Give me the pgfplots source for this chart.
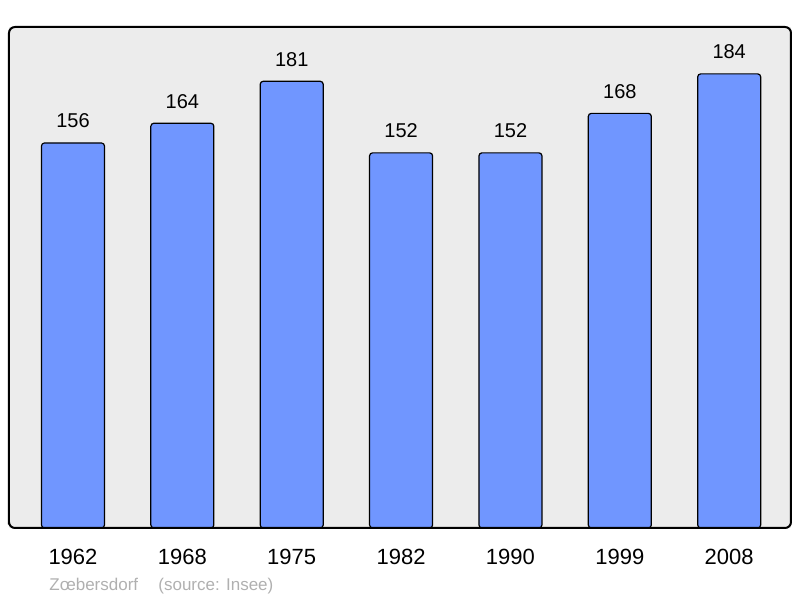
\documentclass[border=0pt]{standalone}
\usepackage{pgfplots}
\pgfplotsset{compat=1.18}
\usepackage{fontspec}
\setmainfont{Liberation Sans}

\definecolor{barblue}{RGB}{112,150,255}
\definecolor{panel}{RGB}{236,236,236}
\definecolor{srcgray}{RGB}{176,176,176}

\begin{document}
\begin{tikzpicture}
\path[use as bounding box] (-4.5pt,-35pt) rectangle (395.5pt,264pt);
\begin{axis}[
    at={(0,0)}, anchor=south west,
    scale only axis,
    width=391pt, height=250.5pt,
    xmin=-0.585, xmax=6.565,
    ymin=0, ymax=203,
    xtick=data,
    xticklabels={1962,1968,1975,1982,1990,1999,2008},
    ytick=\empty,
    major tick length=0pt,
    xticklabel style={anchor=base, yshift=-18.5pt, font=\fontsize{11}{13}\selectfont},
    axis background/.style={fill=panel},
    axis line style={line width=1pt, rounded corners=3pt},
    axis on top,
    /pgf/number format/assume math mode=true,
    nodes near coords,
    every node near coord/.append style={anchor=base, yshift=7.5pt, font=\fontsize{10}{12}\selectfont},
]
\addplot[ybar, bar width=31.5pt, fill=barblue, draw=black, line width=0.6pt, rounded corners=1.5pt]
coordinates {
    (0,156) (1,164) (2,181) (3,152) (4,152) (5,168) (6,184)
};
\end{axis}
\node[anchor=base west, text=srcgray, font=\fontsize{8.5}{10}\selectfont, inner sep=0pt] at (20pt,-31.5pt) {Zœbersdorf};
\node[anchor=base west, text=srcgray, font=\fontsize{8.5}{10}\selectfont, inner sep=0pt] at (74.5pt,-31.5pt) {(source: Insee)};
\end{tikzpicture}
\end{document}
